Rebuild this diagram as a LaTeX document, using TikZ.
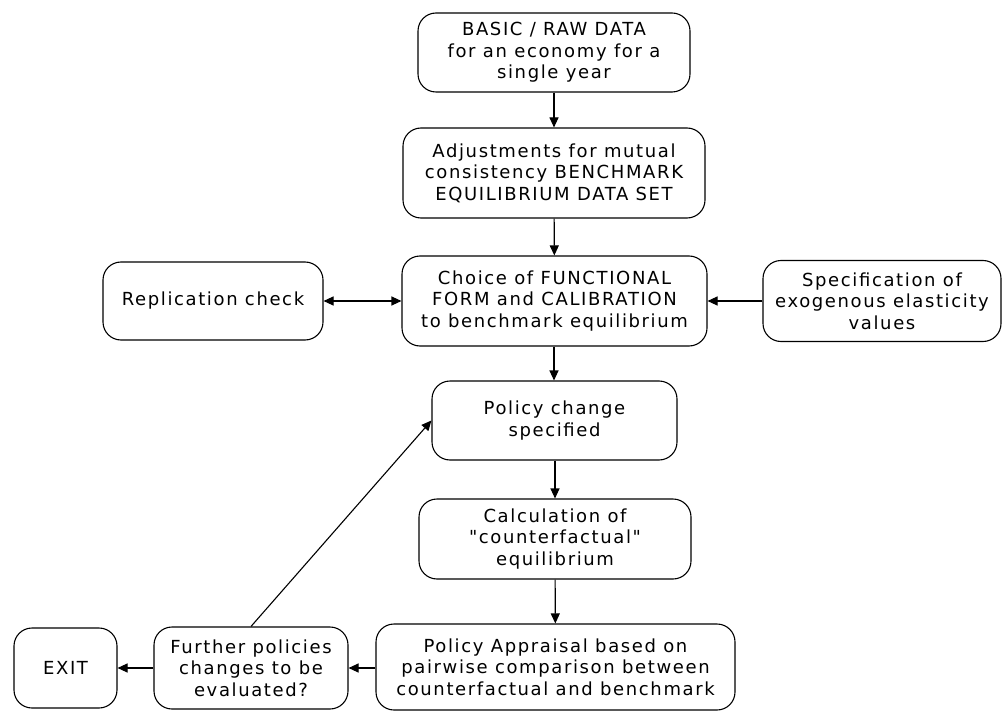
\documentclass[tikz,border=0pt]{standalone}
\usepackage{fontspec}
\setmainfont{DejaVu Sans}[Ligatures=TeXOff, LetterSpace=9]
\usetikzlibrary{arrows.meta}
\begin{document}
\begin{tikzpicture}[x=1pt,y=-1pt,
  box/.style={draw, line width=1.1pt, rounded corners=18pt, align=center,
    inner sep=0pt, font=\fontsize{18}{21.6}\selectfont},
  conn/.style={line width=1.1pt, -{Triangle[length=10pt,width=9pt]}},
  dconn/.style={line width=1.1pt, {Triangle[length=10pt,width=9pt]}-{Triangle[length=10pt,width=9pt]}}]
\useasboundingbox (0,0) rectangle (1003,711);
\node[box, minimum width=272pt, minimum height=79pt] (raw) at (554,52.5) {BASIC / RAW DATA\\for an economy for a\\single year};
\node[box, minimum width=302pt, minimum height=90pt] (adj) at (554,173) {Adjustments for mutual\\consistency BENCHMARK\\EQUILIBRIUM DATA SET};
\node[box, minimum width=305pt, minimum height=90pt] (cal) at (554.5,301) {Choice of FUNCTIONAL\\FORM and CALIBRATION\\to benchmark equilibrium};
\node[box, minimum width=220pt, minimum height=78pt] (rep) at (213,301) {Replication check};
\node[box, minimum width=238pt, minimum height=81pt] (spec) at (882,301) {Specification of\\exogenous elasticity\\values};
\node[box, minimum width=245pt, minimum height=79pt] (pol) at (554.5,420.5) {Policy change\\specified};
\node[box, minimum width=272pt, minimum height=80pt] (cf) at (555,539) {Calculation of\\"counterfactual"\\equilibrium};
\node[box, minimum width=359pt, minimum height=86pt] (app) at (555.5,667) {Policy Appraisal based on\\pairwise comparison between\\counterfactual and benchmark};
\node[box, minimum width=194pt, minimum height=82pt] (fur) at (251,668) {Further policies\\changes to be\\evaluated?};
\node[box, minimum width=103pt, minimum height=80pt] (exit) at (65.5,668) {EXIT};
\draw[conn] (raw.south -| 554,0) -- (adj.north -| 554,0);
\draw[conn] (adj) -- (cal);
\draw[conn] (cal.south -| 554,0) -- (pol.north -| 554,0);
\draw[conn] (pol.south -| 555,0) -- (cf.north -| 555,0);
\draw[conn] (cf) -- (app);
\draw[dconn] (rep) -- (cal);
\draw[conn] (spec) -- (cal);
\draw[conn] (app.west |- fur.east) -- (fur.east);
\draw[conn] (fur) -- (exit);
\draw[conn] (fur.north) -- (pol.west);
\end{tikzpicture}
\end{document}
